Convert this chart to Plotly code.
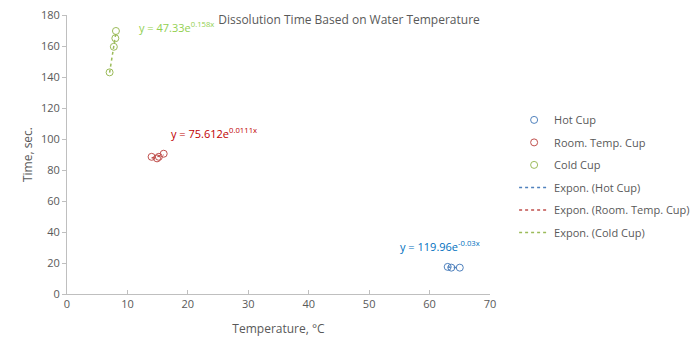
import numpy as np
import plotly.graph_objects as go

# Data
hot_x = [63.0, 63.6, 65.0]
hot_y = [17.5, 17.0, 17.0]
room_x = [14.0, 14.9, 15.2, 16.0]
room_y = [88.5, 87.5, 88.5, 90.5]
cold_x = [7.05, 7.75, 8.0, 8.1]
cold_y = [143.0, 159.5, 165.0, 169.7]

series_names = ["Hot Cup", "Room. Temp. Cup", "Cold Cup"]
trend_names = ["Expon. (Hot Cup)", "Expon. (Room. Temp. Cup)", "Expon. (Cold Cup)"]
eq_labels = ["y = 119.96e<sup>-0.03x</sup>", "y = 75.612e<sup>0.0111x</sup>", "y = 47.33e<sup>0.158x</sup>"]

marker_colors = ["#4F81BD", "#C0504D", "#9BBB59"]
label_colors = ["#0070C0", "#C00000", "#92D050"]

FONT = "Open Sans"
GRAY = "#595959"

fig = go.Figure()
data = [(hot_x, hot_y), (room_x, room_y), (cold_x, cold_y)]

for i, ((xs, ys), name, c) in enumerate(zip(data, series_names, marker_colors)):
    fig.add_trace(go.Scatter(x=xs, y=ys, mode="markers", name=name, legendgroup=f"m{i}",
                             marker=dict(symbol="circle-open", size=7, color=c, line=dict(width=1))))

for i, ((xs, ys), name, c) in enumerate(zip(data, trend_names, marker_colors)):
    xs_a = np.array(xs); ys_a = np.array(ys)
    b, lna = np.polyfit(xs_a, np.log(ys_a), 1)
    tx = np.linspace(xs_a.min(), xs_a.max(), 30)
    ty = np.exp(lna) * np.exp(b * tx)
    fig.add_trace(go.Scatter(x=tx, y=ty, mode="lines", name=name, legendgroup=f"t{i}",
                             line=dict(color=c, width=1.5, dash="dot")))

# equation labels
label_pos = [(54.8, 31), (16.9, 104), (11.6, 172)]
for (lx, ly), txt, c in zip(label_pos, eq_labels, label_colors):
    fig.add_annotation(x=lx, y=ly, text=txt, showarrow=False, xanchor="left", yanchor="middle",
                       font=dict(family=FONT, size=11, color=c))

fig.update_layout(
    width=698, height=353,
    margin=dict(l=67, r=208, t=15, b=59, autoexpand=False),
    paper_bgcolor="white", plot_bgcolor="white",
    font=dict(family=FONT, size=11, color=GRAY),
    title=dict(text="Dissolution Time Based on Water Temperature", x=0.5, xanchor="center",
               y=0.945, yanchor="middle", font=dict(family=FONT, size=12, color=GRAY)),
    legend=dict(x=1.057, y=0.676, xanchor="left", yanchor="top", font=dict(family=FONT, size=11, color=GRAY),
                tracegroupgap=3.5, bgcolor="rgba(0,0,0,0)"),
    showlegend=True,
)
fig.update_xaxes(range=[0, 70], dtick=10, showgrid=False, zeroline=False, showline=True,
                 linecolor="#BFBFBF", linewidth=1, ticks="inside", ticklen=4, tickcolor="#BFBFBF",
                 title=dict(text="Temperature, °C", font=dict(size=12, color=GRAY), standoff=14),
                 tickfont=dict(size=11, color=GRAY))
fig.update_yaxes(range=[0, 180], dtick=20, showgrid=False, zeroline=False, showline=True,
                 linecolor="#BFBFBF", linewidth=1, ticks="outside", ticklen=4, tickcolor="#BFBFBF",
                 title=dict(text="Time, sec.", font=dict(size=12, color=GRAY), standoff=5),
                 tickfont=dict(size=11, color=GRAY))

fig.write_html("out.html")
